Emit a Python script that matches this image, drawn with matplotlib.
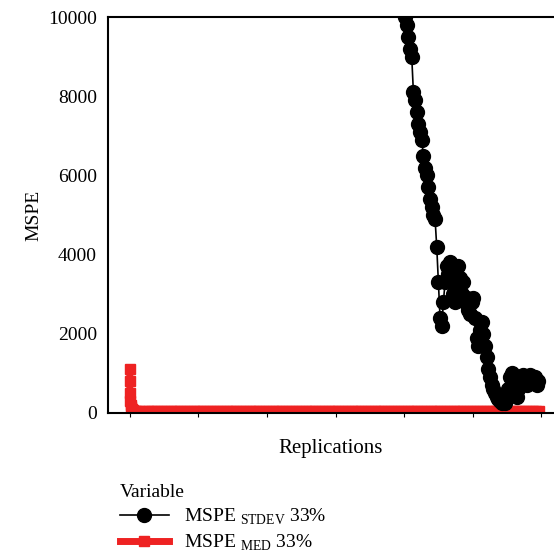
import matplotlib
matplotlib.use("Agg")
import matplotlib.pyplot as plt
import numpy as np

plt.rcParams['font.family'] = ['Liberation Serif', 'DejaVu Serif']
plt.rcParams['mathtext.fontset'] = 'custom'
plt.rcParams['mathtext.rm'] = 'Liberation Serif'

# black series (MSPE STDEV) sampled every 4 replications from 669
stdev_start = 669
stdev_step = 4.05
stdev_vals = [10000, 9800, 9500, 9200, 9000, 8100, 7900, 7600, 7300, 7100,
              6900, 6500, 6200, 6000, 5700, 5400, 5200, 5000, 4900, 4200,
              3300, 2400, 2200, 2800, 3300, 3700, 3500,
              3800, 3400, 3000, 2800, 3200, 3700, 3400, 3000, 3300, 2800,
              2900, 2600, 2500, 2800, 2900, 2400, 1900, 1700, 2100, 2300,
              2000, 1700, 1400, 1100, 900, 700, 600, 500, 400, 350,
              300, 250, 300, 250, 400, 600, 900, 1000, 700, 500,
              400, 600, 800, 900, 950, 800, 700, 900, 950, 900,
              850, 900, 700, 800]
# red series (MSPE MED)
med_x = [0, 0, 0, 1, 2, 3, 5, 8, 12, 18, 25] + list(range(35, 1001, 8))
med_vals = [1100, 800, 500, 300, 200, 150, 110, 80, 60, 55, 50] + [50] * len(range(35, 1001, 8))

sx = np.arange(len(stdev_vals)) * stdev_step + stdev_start

fig = plt.figure(figsize=(5.54, 5.52), dpi=100)
ax = fig.add_axes([0.195, 0.252, 0.805, 0.717])
ax.plot(sx, stdev_vals, '-o', color='black', lw=1.2, ms=10, label=r'MSPE $_{\mathrm{STDEV}}$ 33%', zorder=3)
ax.plot(med_x, med_vals, '-s', color='#ee2222', lw=5, ms=7, label=r'MSPE $_{\mathrm{MED}}$ 33%', zorder=2)

ax.set_xlim(-53, 1031)
ax.set_ylim(0, 10000)
ax.set_yticks(range(0, 10001, 2000))
ax.set_xticks(np.linspace(0, 1000, 7))
ax.set_xticklabels([])
ax.tick_params(axis='x', length=3, width=0.8)
ax.tick_params(axis='y', length=0, labelsize=14, pad=8)
ax.spines['right'].set_visible(False)
for s in ['top', 'left', 'bottom']:
    ax.spines[s].set_linewidth(1.5)
ax.set_ylabel('MSPE', fontsize=14)
ax.set_xlabel('Replications', fontsize=15, labelpad=12)

leg = fig.legend(loc='upper left', bbox_to_anchor=(0.185, 0.155), title='Variable',
                 frameon=False, fontsize=14, title_fontsize=14, handlelength=2.5,
                 alignment='left', labelspacing=0.3)
fig.savefig('out.png', dpi=100)
